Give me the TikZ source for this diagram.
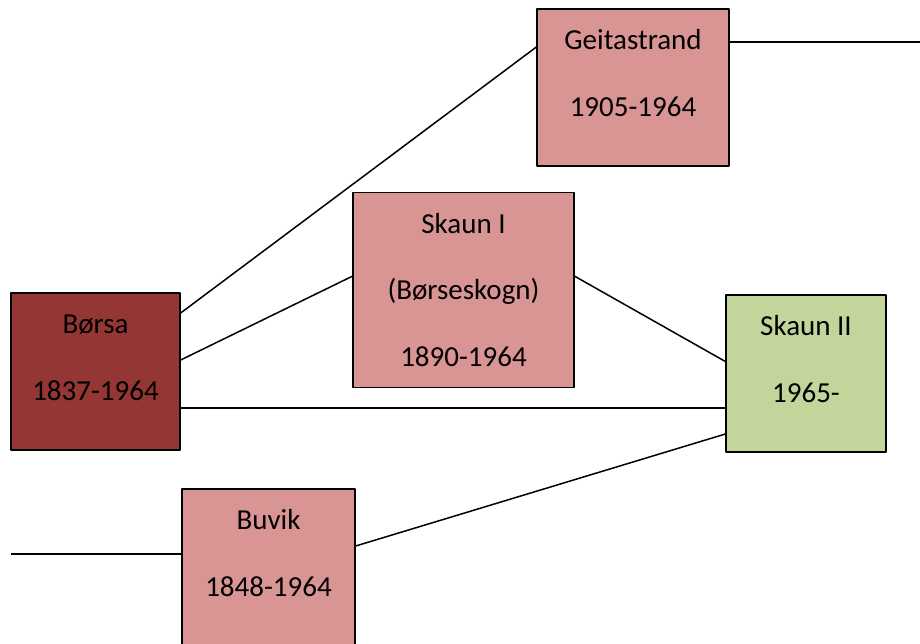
\documentclass[tikz,border=0pt]{standalone}
\usepackage{fontspec}
\setmainfont{Carlito}
\definecolor{boersafill}{HTML}{943634}
\definecolor{rosafill}{HTML}{D99594}
\definecolor{gronnfill}{HTML}{C2D69B}
\tikzset{
	kommune/.style={draw=black, line width=1.3pt, fill=#1, inner sep=0pt, align=center, anchor=center},
	boxsize/.style n args={3}{minimum width=#1pt, minimum height=#2pt, text height=#3pt, text depth={#2pt-#3pt}},
	grense/.style={line width=1.5pt, line cap=butt}
}
\begin{document}
\begin{tikzpicture}[x=1pt, y=-1pt, font=\fontsize{29}{33.5}\selectfont, line join=round]
				\useasboundingbox (0,0) rectangle (920,643);
				\node[kommune=boersafill, boxsize={169}{157}{107}] (boersa) at (95.5,371.5) {Børsa\\[33pt]1837-1964};
				\node[kommune=rosafill, boxsize={192}{157}{107}] (geita) at (633,87.5) {Geitastrand\\[33pt]1905-1964};
				\node[kommune=rosafill, boxsize={221}{195}{174}] (skaunI) at (463.5,289.7) {Skaun I\\[33pt](Børseskogn)\\[33pt]1890-1964};
				\node[kommune=gronnfill, boxsize={160}{157}{107}] (skaunII) at (806,373.5) {Skaun II\\[33pt]1965-};
				\node[kommune=rosafill, boxsize={173}{157}{107}] (buvik) at (268.5,567.5) {Buvik\\[33pt]1848-1964};
				\coordinate (geitaut) at (920,42);
				\coordinate (buvikinn) at (11,554);
				\draw[grense] ([yshift=58.5pt]boersa.east) -- ([yshift=40.5pt]geita.west);
				\draw[grense] ([yshift=11.5pt]boersa.east) -- ([yshift=13.5pt]skaunI.west);
				\draw[grense] ([yshift=-36.5pt]boersa.east) -- ([yshift=-36.5pt]boersa.east -| skaunII.west);
				\draw[grense] ([yshift=13.5pt]skaunI.east) -- ([yshift=12pt]skaunII.west);
				\draw[grense] ([yshift=21.5pt]buvik.east) -- ([yshift=-60.5pt]skaunII.west);
				\draw[grense] ([yshift=45.5pt]geita.east) -- (geitaut);
				\draw[grense] (buvikinn) -- (buvikinn -| buvik.west);
			\end{tikzpicture}
\end{document}
